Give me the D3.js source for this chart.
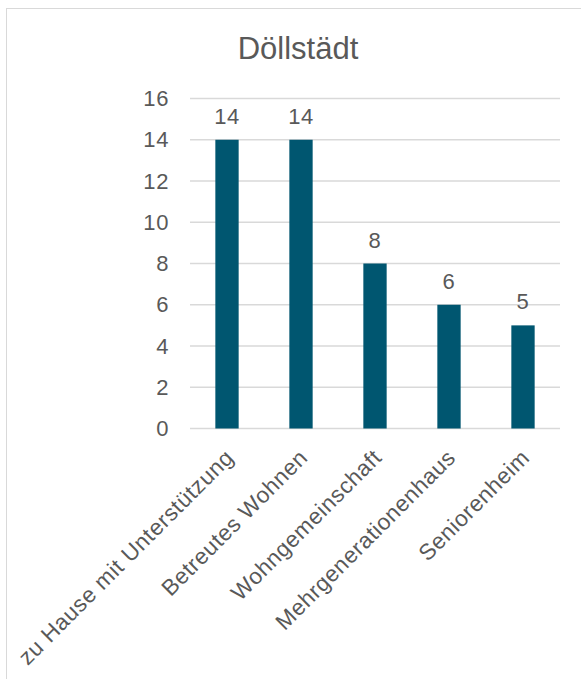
<!DOCTYPE html>
<html>
<head>
<meta charset="utf-8">
<script src="https://cdn.jsdelivr.net/npm/d3@7"></script>
<style>
  body { margin: 0; background: #fff; }
  text { font-family: "Liberation Sans", Arial, sans-serif; fill: #595959; }
</style>
</head>
<body>
<svg width="581" height="679"></svg>
<script>
// data
var title = "Döllstädt";
var categories = ["zu Hause mit Unterstützung", "Betreutes Wohnen", "Wohngemeinschaft", "Mehrgenerationenhaus", "Seniorenheim"];
var values = [14, 14, 8, 6, 5];
var yTicks = [0, 2, 4, 6, 8, 10, 12, 14, 16];

var svg = d3.select("svg");

// chart frame (only top/left edges are visible in the crop)
svg.append("rect")
  .attr("x", 6.5).attr("y", 8.5)
  .attr("width", 700).attr("height", 800)
  .attr("fill", "#fff")
  .attr("stroke", "#d9d9d9");

var x = d3.scaleBand()
  .domain(categories)
  .range([190, 560])
  .paddingInner(0.685)
  .paddingOuter(0.3425);

var y = d3.scaleLinear()
  .domain([0, 16])
  .range([428.5, 98.5]);

// gridlines
svg.append("g")
  .selectAll("line")
  .data(yTicks)
  .enter()
  .append("line")
    .attr("x1", 190).attr("x2", 560)
    .attr("y1", d => y(d)).attr("y2", d => y(d))
    .attr("stroke", "#d9d9d9")
    .attr("stroke-width", 1.3);

// y axis labels
var yAxis = d3.axisLeft(y).tickValues(yTicks).tickSize(0).tickPadding(21);
svg.append("g")
  .attr("transform", "translate(190,0)")
  .call(yAxis)
  .call(g => g.select(".domain").remove())
  .selectAll("text")
    .style("font-size", "22px")
    .style("letter-spacing", "0.6px")
    .attr("fill", "#595959");

// bars
svg.append("g")
  .selectAll("rect")
  .data(values)
  .enter()
  .append("rect")
    .attr("x", (d, i) => x(categories[i]))
    .attr("y", d => y(d))
    .attr("width", x.bandwidth())
    .attr("height", d => y(0) - y(d))
    .attr("fill", "#005670");

// value labels
svg.append("g")
  .selectAll("text")
  .data(values)
  .enter()
  .append("text")
    .attr("x", (d, i) => x(categories[i]) + x.bandwidth() / 2)
    .attr("y", d => y(d) - 16)
    .attr("text-anchor", "middle")
    .style("font-size", "22px")
    .style("letter-spacing", "0.6px")
    .text(d => d);

// x axis labels, rotated
svg.append("g")
  .selectAll("text")
  .data(categories)
  .enter()
  .append("text")
    .attr("transform", d => "translate(" + (x(d) + x.bandwidth() / 2 + 8) + ",459) rotate(-45)")
    .attr("text-anchor", "end")
    .style("font-size", "22.5px")
    .style("letter-spacing", "0.6px")
    .text(d => d);

// title
svg.append("text")
  .attr("x", 298)
  .attr("y", 59)
  .attr("text-anchor", "middle")
  .style("font-size", "31px")
  .text(title);
</script>
</body>
</html>
